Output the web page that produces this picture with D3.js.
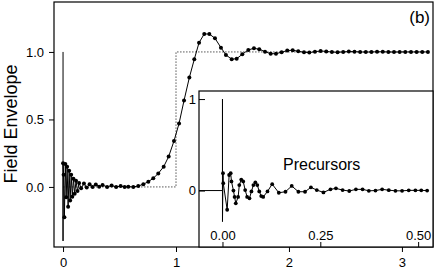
<!DOCTYPE html>
<html>
<head>
<title>Field Envelope</title>
<script src="https://d3js.org/d3.v7.min.js"></script>
<style>
  body { margin: 0; background: #fff; }
  svg { font-family: "Liberation Sans", Arial, sans-serif; }
</style>
</head>
<body>
<script>
    var w = 436, h = 271;

    // main trace (dots)
    var mainT = [0.000, 0.005, 0.012, 0.020, 0.028, 0.036, 0.045, 0.054, 0.063, 0.072,
                 0.082, 0.092, 0.103, 0.115, 0.128, 0.142, 0.160, 0.185, 0.210, 0.235,
                 0.262, 0.290, 0.320, 0.350, 0.390, 0.430, 0.470, 0.510, 0.545, 0.578,
                 0.622, 0.666, 0.711, 0.755, 0.799, 0.843, 0.891, 0.935, 0.982, 1.027,
                 1.071, 1.118, 1.162, 1.204, 1.250, 1.295, 1.345, 1.398, 1.442, 1.493,
                 1.537, 1.587, 1.640, 1.690, 1.737, 1.788, 1.838, 1.885, 1.935, 1.985,
                 2.033, 2.082, 2.133, 2.180, 2.230, 2.280, 2.330, 2.380, 2.430, 2.480,
                 2.530, 2.580, 2.630, 2.680, 2.730, 2.780, 2.830, 2.880, 2.930, 2.980,
                 3.030, 3.080, 3.130, 3.180, 3.230];
    var mainY = [0.175, 0.090, -0.225, 0.170, -0.076, 0.150, -0.146, 0.120, -0.100, 0.090,
                 -0.072, 0.060, -0.050, 0.045, -0.030, 0.030, -0.010, 0.025, -0.005, 0.020,
                 0.000, 0.018, 0.002, 0.014, 0.000, 0.010, 0.000, 0.006, 0.000, 0.002,
                 0.000, 0.007, 0.020, 0.039, 0.064, 0.100, 0.150, 0.225, 0.340, 0.470,
                 0.640, 0.810, 0.946, 1.069, 1.133, 1.133, 1.101, 1.032, 0.978, 0.946,
                 0.950, 0.983, 1.015, 1.027, 1.020, 1.002, 0.987, 0.987, 0.998, 1.010,
                 1.013, 1.005, 0.998, 0.995, 1.002, 1.007, 1.004, 0.999, 0.998, 1.000,
                 1.003, 1.002, 1.000, 0.999, 1.000, 1.001, 1.001, 1.000, 0.999, 1.000,
                 1.000, 1.000, 1.000, 1.000, 1.000];
    var mainSpike = [1.0, -0.4];

    // input step (dotted)
    var stepT = [0, 1, 1, 3.24];
    var stepY = [0, 0, 1, 1];

    // precursor trace for the inset
    var precT = [0.0013, 0.002, 0.012, 0.017, 0.021, 0.023, 0.028, 0.031, 0.034, 0.040,
                 0.043, 0.048, 0.053, 0.058, 0.063, 0.069, 0.074, 0.079, 0.084, 0.089,
                 0.094, 0.099, 0.104, 0.115, 0.127, 0.144, 0.161, 0.177, 0.194, 0.211,
                 0.226, 0.241, 0.258, 0.276, 0.290, 0.307, 0.324, 0.341, 0.358, 0.374,
                 0.391, 0.408, 0.425, 0.442, 0.459, 0.476, 0.493, 0.508, 0.523];
    var precY = [0.19, 0.08, -0.21, 0.17, 0.19, 0.10, 0.00, -0.07, -0.14, -0.07,
                 0.06, 0.12, 0.10, 0.005, -0.07, -0.085, -0.01, 0.06, 0.09, 0.06,
                 -0.01, -0.06, -0.07, -0.01, 0.07, -0.024, -0.013, 0.05, -0.013, -0.013,
                 0.035, 0.005, -0.02, 0.013, 0.024, 0.005, -0.005, 0.013, 0.013, -0.003,
                 0.000, 0.013, 0.004, -0.003, -0.003, 0.002, 0.002, 0.002, 0.000];
    var precSpike = [1.0, -0.34];

    var mainYTicks = [0, 0.5, 1];
    var mainXTicks = [0, 1, 2, 3];
    var insetYTicks = [0, 1];
    var insetXTicks = [0, 0.25, 0.5];

    var svg = d3.select("body").append("svg")
                .attr("width", w).attr("height", h);

    // ---- main panel
    var x = d3.scaleLinear().domain([-0.08, 3.275]).range([54, 433]);
    var y = d3.scaleLinear().domain([-0.445, 1.37]).range([247, 2]);

    var line = d3.line().x(function(d){return x(d[0]);}).y(function(d){return y(d[1]);});

    svg.append("path")
       .datum(stepT.map(function(t, i){return [t, stepY[i]];}))
       .attr("d", line)
       .attr("fill", "none")
       .attr("stroke", "#555")
       .attr("stroke-width", 1)
       .attr("stroke-dasharray", "1.5,1.5");

    var mainPts = mainT.map(function(t, i){return [t, mainY[i]];});
    var mainLine = [[0, mainSpike[0]], [0, mainSpike[1]]].concat(mainPts);

    svg.append("path")
       .datum(mainLine)
       .attr("d", line)
       .attr("fill", "none")
       .attr("stroke", "#000")
       .attr("stroke-width", 1);

    svg.selectAll("circle.main")
       .data(mainPts)
       .enter().append("circle")
       .attr("class", "main")
       .attr("cx", function(d){return x(d[0]);})
       .attr("cy", function(d){return y(d[1]);})
       .attr("r", 2)
       .attr("fill", "#000");

    svg.append("rect")
       .attr("x", 54).attr("y", 2).attr("width", 379).attr("height", 245)
       .attr("fill", "none").attr("stroke", "#000").attr("stroke-width", 1.2);

    svg.append("g")
       .attr("transform", "translate(54,0)")
       .call(d3.axisLeft(y).tickValues(mainYTicks).tickFormat(d3.format(".1f"))
               .tickSize(5).tickPadding(5));
    svg.append("g")
       .attr("transform", "translate(0,247)")
       .call(d3.axisBottom(x).tickValues(mainXTicks).tickFormat(d3.format("d"))
               .tickSize(5).tickPadding(6));

    svg.append("text")
       .attr("transform", "translate(17,124) rotate(-90)")
       .attr("text-anchor", "middle")
       .attr("font-size", "18px")
       .text("Field Envelope");

    svg.append("text")
       .attr("x", 430).attr("y", 23)
       .attr("text-anchor", "end")
       .attr("font-size", "17px")
       .text("(b)");

    // ---- inset
    var ix = d3.scaleLinear().domain([-0.06, 0.538]).range([199, 433]);
    var iy = d3.scaleLinear().domain([-0.617, 1.088]).range([247, 91]);
    var iline = d3.line().x(function(d){return ix(d[0]);}).y(function(d){return iy(d[1]);});

    svg.append("rect")
       .attr("x", 199).attr("y", 91).attr("width", 234).attr("height", 156)
       .attr("fill", "#fff").attr("stroke", "#000").attr("stroke-width", 1.2);

    var precPts = precT.map(function(t, i){return [t, precY[i]];});
    var precLine = [[-0.06, 0], [0, 0], [0, precSpike[0]], [0, precSpike[1]]].concat(precPts);

    svg.append("path")
       .datum(precLine)
       .attr("d", iline)
       .attr("fill", "none")
       .attr("stroke", "#000")
       .attr("stroke-width", 1);

    svg.selectAll("circle.prec")
       .data(precPts)
       .enter().append("circle")
       .attr("class", "prec")
       .attr("cx", function(d){return ix(d[0]);})
       .attr("cy", function(d){return iy(d[1]);})
       .attr("r", 1.9)
       .attr("fill", "#000");

    svg.append("g")
       .attr("transform", "translate(199,0)")
       .call(d3.axisLeft(iy).tickValues(insetYTicks).tickFormat(d3.format("d"))
               .tickSize(-6).tickPadding(3));
    svg.append("g")
       .attr("transform", "translate(0,247)")
       .call(d3.axisTop(ix).tickValues(insetXTicks).tickFormat(d3.format(".2f"))
               .tickSize(5).tickPadding(2));

    svg.append("text")
       .attr("x", 283).attr("y", 170)
       .attr("font-size", "16px")
       .text("Precursors");

    svg.selectAll(".domain").remove();
    svg.selectAll(".tick text")
       .attr("font-family", "Liberation Sans, Arial, sans-serif")
       .attr("font-size", "13px")
       .attr("fill", "#000");
    svg.selectAll(".tick line").attr("stroke", "#000");
</script>
</body>
</html>
